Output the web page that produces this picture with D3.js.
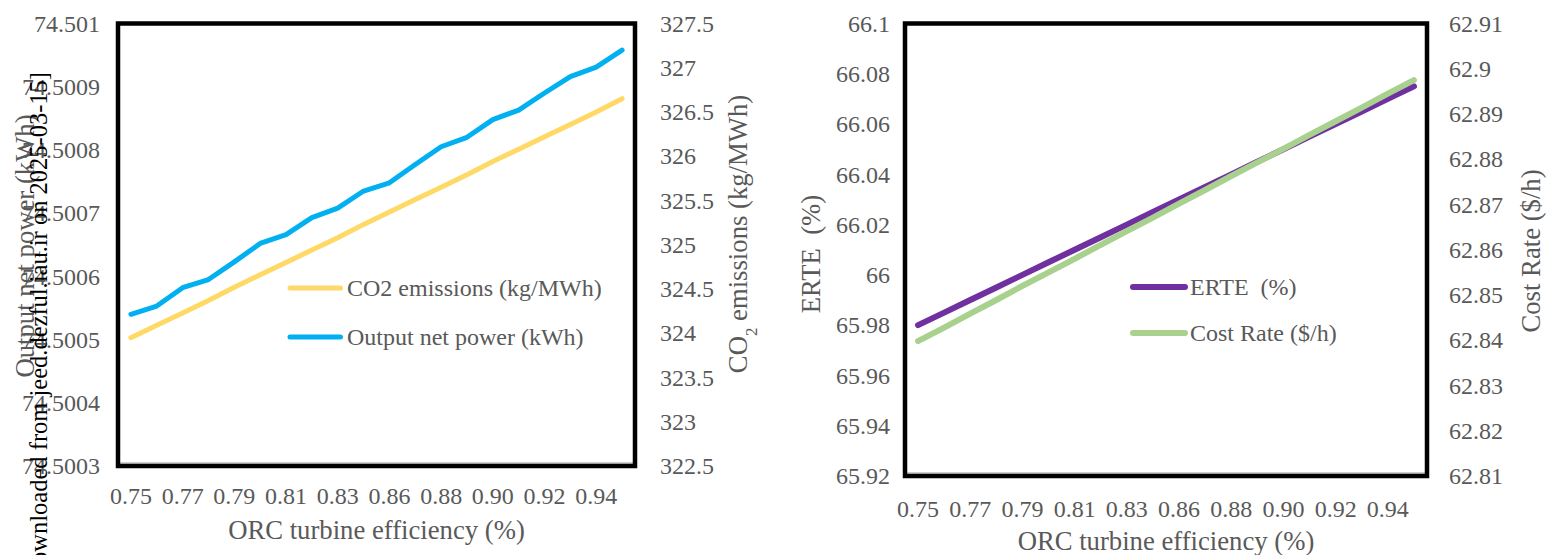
<!DOCTYPE html>
<html>
<head>
<meta charset="utf-8">
<script src="https://cdn.jsdelivr.net/npm/d3@7/dist/d3.min.js"></script>
<style>
  html, body { margin: 0; padding: 0; background: #fff; }
  svg { display: block; }
  text { font-family: "Liberation Serif", "Times New Roman", serif; }
</style>
</head>
<body>
<svg id="chart" width="1549" height="555"></svg>
<script>
// ---------- DATA ----------
const categories = ["0.75","0.76","0.77","0.78","0.79","0.80","0.81","0.82","0.83","0.84",
                    "0.86","0.87","0.88","0.89","0.90","0.91","0.92","0.93","0.94","0.95"];
const xTickLabels = ["0.75","0.77","0.79","0.81","0.83","0.86","0.88","0.90","0.92","0.94"];

const outputNetPower = [74.500540, 74.500553, 74.500582, 74.500595, 74.500623, 74.500652, 74.500666,
                        74.500693, 74.500708, 74.500735, 74.500748, 74.500777, 74.500805, 74.500820,
                        74.500848, 74.500863, 74.500890, 74.500916, 74.500931, 74.500958];
const co2Emissions = [323.95, 324.09, 324.23, 324.37, 324.52, 324.66, 324.80, 324.94, 325.08, 325.23,
                      325.37, 325.51, 325.65, 325.79, 325.94, 326.08, 326.22, 326.36, 326.50, 326.65];
const erte = [65.980, 65.985, 65.990, 65.995, 66.000, 66.005, 66.010, 66.015, 66.020, 66.025,
              66.030, 66.035, 66.040, 66.045, 66.050, 66.055, 66.060, 66.065, 66.070, 66.075];
const costRate = [62.8398, 62.8428, 62.8459, 62.8489, 62.8520, 62.8550, 62.8580, 62.8611, 62.8641, 62.8671,
                  62.8702, 62.8732, 62.8763, 62.8793, 62.8823, 62.8854, 62.8884, 62.8914, 62.8945, 62.8975];

const powerTicks = [74.5003, 74.5004, 74.5005, 74.5006, 74.5007, 74.5008, 74.5009, 74.5010];
const co2Ticks = [322.5, 323, 323.5, 324, 324.5, 325, 325.5, 326, 326.5, 327, 327.5];
const erteTicks = [65.92, 65.94, 65.96, 65.98, 66.00, 66.02, 66.04, 66.06, 66.08, 66.10];
const costTicks = [62.81, 62.82, 62.83, 62.84, 62.85, 62.86, 62.87, 62.88, 62.89, 62.90, 62.91];

// ---------- DRAW ----------
const svg = d3.select("#chart");
const GREY = "#595959";
const SERIF = '"Liberation Serif", "Times New Roman", serif';
const FS_TICK = 24;
const FS_LEG = 24;
const FS_TITLE = 26.7;
const fmt = d => String(+d.toFixed(4));

function panel(cfg) {
  const g = svg.append("g");
  const x = d3.scaleBand().domain(categories).range([cfg.x0, cfg.x1]).padding(0);
  const yL = d3.scaleLinear().domain(cfg.leftDomain).range([cfg.y1, cfg.y0]);
  const yR = d3.scaleLinear().domain(cfg.rightDomain).range([cfg.y1, cfg.y0]);

  // lines
  cfg.series.forEach(s => {
    const ys = s.axis === "left" ? yL : yR;
    const line = d3.line()
      .x((d, i) => x(categories[i]) + x.bandwidth() / 2)
      .y(d => ys(d));
    g.append("path").datum(s.values)
      .attr("d", line)
      .attr("fill", "none")
      .attr("stroke", s.color)
      .attr("stroke-width", s.width)
      .attr("stroke-linejoin", "round")
      .attr("stroke-linecap", "round");
  });

  // frame
  g.append("line").attr("x1", cfg.x0).attr("x2", cfg.x1)
    .attr("y1", cfg.y1 - 3).attr("y2", cfg.y1 - 3)
    .attr("stroke", "#bfbfbf").attr("stroke-width", 1.5);
  g.append("rect").attr("x", cfg.x0).attr("y", cfg.y0)
    .attr("width", cfg.x1 - cfg.x0).attr("height", cfg.y1 - cfg.y0)
    .attr("fill", "none").attr("stroke", "#000").attr("stroke-width", 4.5);

  // axes
  const styleAxis = sel => {
    sel.attr("font-family", SERIF).attr("font-size", FS_TICK);
    sel.select(".domain").remove();
    sel.selectAll(".tick line").remove();
    sel.selectAll("text").attr("fill", GREY)
      .attr("font-family", SERIF).attr("font-size", FS_TICK);
  };
  g.append("g").attr("transform", `translate(0,${cfg.y1})`)
    .call(d3.axisBottom(x).tickValues(xTickLabels).tickSize(0).tickPadding(cfg.xPad))
    .call(styleAxis);
  g.append("g").attr("transform", `translate(${cfg.x0},0)`)
    .call(d3.axisLeft(yL).tickValues(cfg.leftTicks).tickFormat(fmt).tickSize(0).tickPadding(cfg.lPad))
    .call(styleAxis);
  g.append("g").attr("transform", `translate(${cfg.x1},0)`)
    .call(d3.axisRight(yR).tickValues(cfg.rightTicks).tickFormat(fmt).tickSize(0).tickPadding(cfg.rPad))
    .call(styleAxis);

  // x title
  g.append("text").attr("x", (cfg.x0 + cfg.x1) / 2).attr("y", cfg.xTitleY)
    .attr("text-anchor", "middle").attr("fill", GREY)
    .attr("font-family", SERIF).attr("font-size", FS_TITLE)
    .text("ORC turbine efficiency (%)");

  // legend
  cfg.series.forEach((s, i) => {
    const ly = cfg.legY[i];
    g.append("line").attr("x1", cfg.legX1).attr("x2", cfg.legX2)
      .attr("y1", ly).attr("y2", ly)
      .attr("stroke", s.color).attr("stroke-width", s.width).attr("stroke-linecap", "round");
    g.append("text").attr("x", cfg.legTextX).attr("y", ly + 8)
      .attr("fill", GREY).attr("font-family", SERIF).attr("font-size", FS_LEG).text(s.name);
  });
  return g;
}

panel({
  x0: 118, x1: 635, y0: 23.5, y1: 466,
  leftDomain: [74.5003, 74.5010], rightDomain: [322.5, 327.5],
  leftTicks: powerTicks, rightTicks: co2Ticks,
  xPad: 21, lPad: 18, rPad: 25, xTitleY: 539,
  legX1: 290, legX2: 340.5, legTextX: 347, legY: [288, 337],
  series: [
    { name: "CO2 emissions (kg/MWh)", values: co2Emissions, axis: "right", color: "#ffd966", width: 5 },
    { name: "Output net power (kWh)", values: outputNetPower, axis: "left", color: "#00b0f0", width: 5 }
  ]
});

panel({
  x0: 905, x1: 1427, y0: 23.5, y1: 476,
  leftDomain: [65.92, 66.10], rightDomain: [62.81, 62.91],
  leftTicks: erteTicks, rightTicks: costTicks,
  xPad: 24, lPad: 15, rPad: 22, xTitleY: 550,
  legX1: 1133, legX2: 1185, legTextX: 1190, legY: [287, 333],
  series: [
    { name: "ERTE\u00a0\u00a0(%)", values: erte, axis: "left", color: "#7030a0", width: 6 },
    { name: "Cost Rate ($/h)", values: costRate, axis: "right", color: "#a9d18e", width: 6 }
  ]
});

// axis titles (rotated)
function vTitle(x, y, parts) {
  const t = svg.append("text")
    .attr("transform", `translate(${x},${y}) rotate(-90)`)
    .attr("text-anchor", "middle").attr("fill", GREY)
    .attr("font-family", SERIF).attr("font-size", FS_TITLE);
  parts.forEach(p => {
    const ts = t.append("tspan").text(p.t);
    if (p.sub) ts.attr("baseline-shift", "sub").attr("font-size", 17);
  });
}
vTitle(34, 246, [{ t: "Output net power (kWh)" }]);
vTitle(747, 234, [{ t: "CO" }, { t: "2", sub: true }, { t: " emissions (kg/MWh)" }]);
vTitle(820, 254, [{ t: "ERTE\u00a0\u00a0(%)" }]);
vTitle(1540, 251, [{ t: "Cost Rate ($/h)" }]);

// watermark
svg.append("text")
  .attr("transform", "translate(47,72) rotate(-90)")
  .attr("text-anchor", "end").attr("fill", "#000")
  .attr("font-family", SERIF).attr("font-size", 24.5)
  .text("Downloaded from jeed.dezful.iau.ir on 2025-03-15]");
</script>
</body>
</html>
